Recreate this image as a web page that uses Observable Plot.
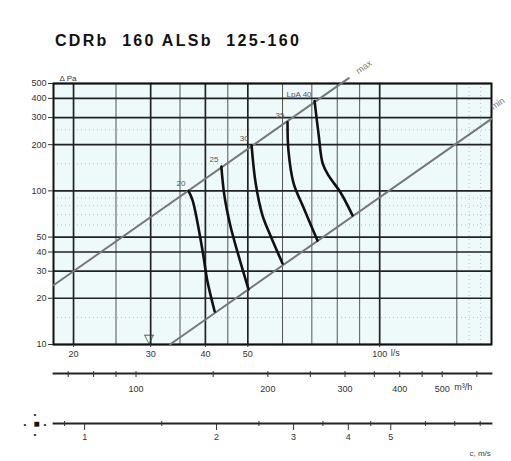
<!DOCTYPE html>
<html>
<head>
<meta charset="utf-8">
<script src="https://cdn.jsdelivr.net/npm/d3@7"></script>
<script src="https://cdn.jsdelivr.net/npm/@observablehq/plot@0.6"></script>
<style>
  body { margin: 0; background: #fff; font-family: "Liberation Sans", Arial, sans-serif; }
  #wrap { position: relative; width: 511px; height: 461px; overflow: hidden; }
  #title { position: absolute; left: 55px; top: 32px; font-size: 16px; font-weight: bold; letter-spacing: 2.3px; white-space: pre; color: #111; }
  .layer { position: absolute; left: 0; }
</style>
</head>
<body>
<div id="wrap">
  <div id="title">CDRb  160 ALSb  125-160</div>
</div>
<script>
// ---- data ----
const flowTicks = [20, 30, 40, 50, 100];            // l/s
const pressureTicks = [10, 20, 30, 40, 50, 100, 200, 300, 400, 500]; // Pa
const minorFlow = [25, 35, 45, 60, 70, 80, 90, 150];
const faintFlow = [160, 170];
const faintPressure = [15, 60, 70, 80, 90, 150, 250];

const curve20 = [[36.6, 100], [37.4, 86.6], [39.4, 40.9], [40.4, 26.1], [42.0, 16.4]];
const curve25 = [[43.5, 144], [44.2, 93.3], [45.6, 59.5], [47.6, 38.0], [50.2, 22.8]];
const curve30 = [[51.0, 197], [52.1, 112], [54.0, 69.2], [56.3, 51.2], [60.0, 33.7]];
const curve35 = [[61.6, 280], [61.9, 183], [63.6, 112], [67.0, 78.0], [72.1, 47.5]];
const curve40 = [[71.0, 385], [72.5, 236], [74.1, 151], [76.4, 126], [81.4, 97.6], [86.7, 69.2]];
const curveLabels = ["20", "25", "30", "35", "LpA 40"];

const upperLine = [[18, 24.3], [85, 542]];
const lowerLine = [[33.2, 10], [180, 294]];
const upperLabel = {q: 92, p: 640, text: "max"};
const lowerLabel = {q: 186, p: 370, text: "min"};
const marker = {q: 30, p: 10};

const m3hTicks = [70, 80, 90, 100, 150, 200, 250, 300, 350, 400, 450, 500, 600];
const m3hLabels = [100, 200, 300, 400, 500];
const velTicks = [0.9, 1.5, 2.5, 3.5, 4.5, 6, 7, 8];
const velLabels = [1, 2, 3, 4, 5];

// ---- build ----
const flowDomain = [18, 180];
const curves = [curve20, curve25, curve30, curve35, curve40];
const curveRows = curves.flatMap((c, i) => c.map(([q, p]) => ({q, p, id: i})));
const labelRows = curves.map((c, i) => ({q: c[0][0], p: c[0][1], text: curveLabels[i]}));
const toRows = (arr, id) => arr.map(([q, p]) => ({q, p, id}));

const font = {fontFamily: "'Liberation Sans', Arial, sans-serif", fontSize: "9px", color: "#333", background: "transparent", overflow: "visible"};

const main = Plot.plot({
  width: 511, height: 365,
  marginLeft: 53, marginRight: 20, marginTop: 83, marginBottom: 21,
  style: font,
  x: {type: "log", domain: flowDomain},
  y: {type: "log", domain: [10, 500]},
  marks: [
    Plot.frame({fill: "#eefafa", stroke: "none"}),
    Plot.ruleY(faintPressure, {stroke: "#9ab", strokeWidth: 0.7, strokeDasharray: "1,3"}),
    Plot.ruleX(faintFlow, {stroke: "#9ab", strokeWidth: 0.7, strokeDasharray: "1,3"}),
    Plot.ruleX(minorFlow, {stroke: "#555", strokeWidth: 1}),
    Plot.ruleY(pressureTicks, {stroke: "#222", strokeWidth: 1.7}),
    Plot.ruleX(flowTicks, {stroke: "#222", strokeWidth: 1.7}),
    Plot.frame({stroke: "#111", strokeWidth: 2}),
    Plot.axisY({ticks: pressureTicks, tickFormat: d => String(d), tickSize: 5, tickPadding: 2, label: null, fontSize: 9}),
    Plot.axisX({ticks: flowTicks, tickFormat: d => String(d), tickSize: 3, tickPadding: 3, label: null, fontSize: 9}),
    Plot.text([100], {x: d => d, frameAnchor: "bottom", dy: 11, dx: 11, textAnchor: "start", text: () => "l/s", fontSize: 9}),
    Plot.text(["Δ Pa"], {frameAnchor: "top-left", dx: 6, dy: -8, textAnchor: "start", fontSize: 8}),
    Plot.line(toRows(upperLine, "u"), {x: "q", y: "p", stroke: "#777", strokeWidth: 2}),
    Plot.line(toRows(lowerLine, "l"), {x: "q", y: "p", stroke: "#777", strokeWidth: 2}),
    Plot.text([upperLabel, lowerLabel], {x: "q", y: "p", text: "text", rotate: -35, fill: "#777", fontSize: 9}),
    Plot.line(curveRows, {x: "q", y: "p", z: "id", stroke: "#111", strokeWidth: 2.6, curve: "catmull-rom"}),
    Plot.text(labelRows, {x: "q", y: "p", text: "text", textAnchor: "end", dx: -3, dy: -7, fill: "#555", fontSize: 8}),
    Plot.text([marker], {x: "q", y: "p", text: () => "▽", dx: -2, dy: -6, fontSize: 13, fill: "#333"})
  ]
});
main.classList.add("layer");
main.style.top = "0px";
document.getElementById("wrap").appendChild(main);

// m³/h axis
const m3h = Plot.plot({
  width: 511, height: 40,
  marginLeft: 53, marginRight: 20, marginTop: 11, marginBottom: 28,
  style: font,
  x: {type: "log", domain: flowDomain.map(d => d * 3.6)},
  marks: [
    Plot.frame({anchor: "top", stroke: "#222", strokeWidth: 1.8}),
    Plot.axisX({anchor: "top", ticks: m3hTicks, tickSize: 3, tickFormat: () => "", label: null}),
    Plot.axisX({anchor: "bottom", ticks: m3hTicks, tickSize: 3, tickPadding: 8, tickFormat: d => m3hLabels.includes(d) ? String(d) : "", label: null, fontSize: 9}),
    Plot.text([500], {x: d => d, frameAnchor: "bottom", dy: 15, dx: 12, textAnchor: "start", text: () => "m³/h", fontSize: 9})
  ]
});
m3h.classList.add("layer");
m3h.style.top = "362px";
document.getElementById("wrap").appendChild(m3h);

// velocity axis (duct Ø ~ 164 mm)
const vel = Plot.plot({
  width: 511, height: 49,
  marginLeft: 53, marginRight: 20, marginTop: 11, marginBottom: 37,
  style: font,
  x: {type: "log", domain: flowDomain.map(d => d / 21.2)},
  marks: [
    Plot.frame({anchor: "top", stroke: "#222", strokeWidth: 1.8}),
    Plot.axisX({anchor: "top", ticks: velTicks, tickSize: 3, tickFormat: () => "", label: null}),
    Plot.axisX({anchor: "bottom", ticks: velTicks, tickSize: 2, tickFormat: () => "", label: null}),
    Plot.axisX({anchor: "bottom", ticks: velLabels, tickSize: 6, tickPadding: 3, tickFormat: d => String(d), label: null, fontSize: 9}),
    Plot.text([8], {x: d => d, frameAnchor: "bottom", dy: 31, text: () => "c, m/s", fontSize: 8, fill: "#444"}),
    Plot.text(["■"], {frameAnchor: "left", dx: -20, fontSize: 10, fill: "#111"}),
    Plot.text(["•"], {frameAnchor: "left", dx: -20, dy: -10, fontSize: 8, fill: "#222"}),
    Plot.text(["•"], {frameAnchor: "left", dx: -20, dy: 10, fontSize: 8, fill: "#222"}),
    Plot.text(["•"], {frameAnchor: "left", dx: -30, fontSize: 8, fill: "#222"}),
    Plot.text(["•"], {frameAnchor: "left", dx: -10, fontSize: 8, fill: "#222"})
  ]
});
vel.classList.add("layer");
vel.style.top = "412px";
document.getElementById("wrap").appendChild(vel);
</script>
</body>
</html>
